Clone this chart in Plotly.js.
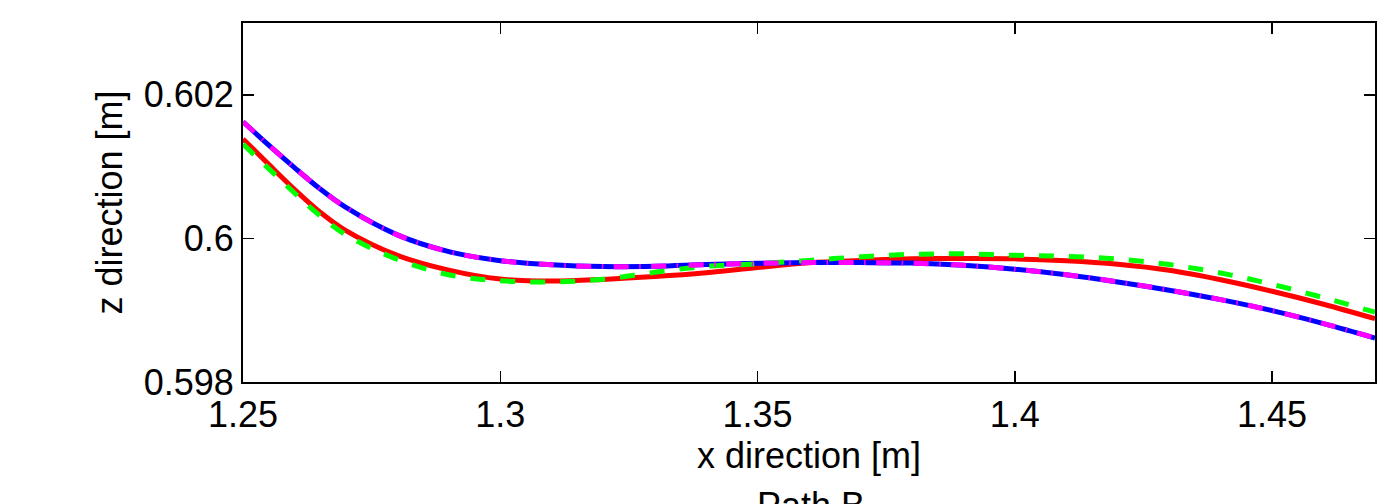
<!DOCTYPE html>
<html>
<head>
<meta charset="utf-8">
<script src="https://cdn.plot.ly/plotly-3.0.1.min.js"></script>
<style>html,body{margin:0;padding:0;background:#fff;}#chart{width:1385px;height:504px;}</style>
</head>
<body>
<div id="chart"></div>
<script>
// x positions (m)
const xPos = [1.25, 1.255, 1.26, 1.265, 1.27, 1.28, 1.29, 1.30, 1.31, 1.32, 1.33, 1.34, 1.35, 1.36, 1.37, 1.38, 1.39, 1.40, 1.41, 1.42, 1.43, 1.44, 1.45, 1.46, 1.47];
// red solid
const zRed = [0.601385, 0.601031, 0.600683, 0.600364, 0.600107, 0.599763, 0.599558, 0.599433, 0.599406, 0.599429, 0.599468, 0.599521, 0.599594, 0.599660, 0.599692, 0.599718, 0.599719, 0.599715, 0.599688, 0.599639, 0.599556, 0.599424, 0.599264, 0.599083, 0.598882];
// green dashed
const zGreen = [0.601313, 0.600972, 0.600632, 0.600313, 0.600049, 0.599708, 0.599493, 0.599410, 0.599393, 0.599431, 0.599528, 0.599611, 0.599646, 0.599694, 0.599743, 0.599778, 0.599785, 0.599764, 0.599750, 0.599711, 0.599636, 0.599518, 0.599361, 0.599174, 0.598972];
// blue solid
const zBlue = [0.601625, 0.601299, 0.600986, 0.600688, 0.600431, 0.600049, 0.599815, 0.599690, 0.599632, 0.599607, 0.599611, 0.599635, 0.599653, 0.599663, 0.599663, 0.599656, 0.599625, 0.599571, 0.599494, 0.599394, 0.599279, 0.599147, 0.598994, 0.598814, 0.598613];
// magenta dash-dot
const zMagenta = [0.601625, 0.601299, 0.600986, 0.600688, 0.600431, 0.600049, 0.599815, 0.599690, 0.599632, 0.599607, 0.599611, 0.599635, 0.599653, 0.599663, 0.599663, 0.599656, 0.599625, 0.599571, 0.599494, 0.599394, 0.599279, 0.599147, 0.598994, 0.598814, 0.598613];

const xTickVals = [1.25, 1.3, 1.35, 1.4, 1.45];
const xTickText = ['1.25', '1.3', '1.35', '1.4', '1.45'];
const yTickVals = [0.598, 0.6, 0.602];
const yTickText = ['0.598', '0.6', '0.602'];

const FONT = 'Liberation Sans, Arial, Helvetica, sans-serif';
const FS = 36;

const traces = [
  {x: xPos, y: zRed, mode: 'lines', line: {color: '#ff0000', width: 5, shape: 'spline', smoothing: 1}, name: 'red'},
  {x: xPos, y: zBlue, mode: 'lines', line: {color: '#0000ff', width: 5, shape: 'spline', smoothing: 1}, name: 'blue'},
  {x: xPos, y: zGreen, mode: 'lines', line: {color: '#00ff00', width: 5, shape: 'spline', smoothing: 1, dash: '15px,15px'}, name: 'green'},
  {x: xPos, y: zMagenta, mode: 'lines', line: {color: '#ff00ff', width: 5, shape: 'spline', smoothing: 1, dash: '15px,10.5px,1.5px,10.5px'}, name: 'magenta'}
];

const axisCommon = {
  showline: true, linecolor: '#000', linewidth: 2, mirror: 'ticks',
  ticks: 'inside', ticklen: 11, tickwidth: 1.5, tickcolor: '#000',
  showgrid: false, zeroline: false,
  tickfont: {family: FONT, size: FS, color: '#000'}
};

const layout = {
  width: 1385, height: 504,
  margin: {l: 243, r: 10, t: 23, b: 122, pad: 0},
  paper_bgcolor: '#fff', plot_bgcolor: '#fff',
  showlegend: false,
  font: {family: FONT, size: FS, color: '#000'},
  title: {text: 'Path B', font: {family: FONT, size: FS, color: '#000'}, x: 0.5855, xanchor: 'center', y: 0.022, yanchor: 'top', yref: 'container'},
  xaxis: Object.assign({}, axisCommon, {
    range: [1.25, 1.47], tickmode: 'array', tickvals: xTickVals, ticktext: xTickText,
    title: {text: 'x direction [m]', font: {family: FONT, size: FS, color: '#000'}, standoff: 0}
  }),
  yaxis: Object.assign({}, axisCommon, {
    range: [0.598, 0.603], tickmode: 'array', tickvals: yTickVals, ticktext: yTickText,
    title: {text: 'z direction [m]', font: {family: FONT, size: FS, color: '#000'}, standoff: 10}
  })
};

Plotly.newPlot('chart', traces, layout, {displayModeBar: false, staticPlot: true});
</script>
</body>
</html>
